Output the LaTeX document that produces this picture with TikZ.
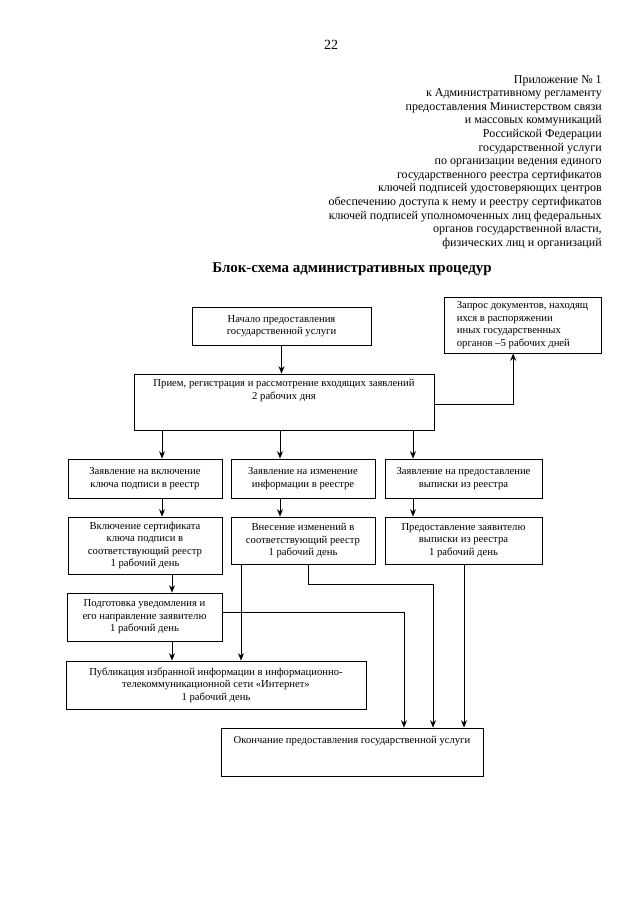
\documentclass[tikz,border=0pt]{standalone}
\usepackage{fontspec}
\setmainfont{Liberation Serif}
\usetikzlibrary{arrows.meta}

\begin{document}
\begin{tikzpicture}[x=0.75pt,y=-0.75pt,
            box/.style={draw, line width=0.7pt, align=center, inner sep=2pt, font=\fontsize{8}{9.4}\selectfont},
            arr/.style={line width=0.7pt, -{Stealth[length=5.5pt,width=4.5pt]}},
            lin/.style={line width=0.7pt}]
        \useasboundingbox (0,0) rectangle (640,905);

        % page header
        \node (page) at (331,45) {\fontsize{10.5}{12}\selectfont 22};
        \node[anchor=north east, align=right, inner sep=0pt, font=\fontsize{9}{10.2}\selectfont] (annex) at (602,75) {Приложение № 1\\
            к Административному регламенту\\
            предоставления Министерством связи\\
            и массовых коммуникаций\\
            Российской Федерации\\
            государственной услуги\\
            по организации ведения единого\\
            государственного реестра сертификатов\\
            ключей подписей удостоверяющих центров\\
            обеспечению доступа к нему и реестру сертификатов\\
            ключей подписей уполномоченных лиц федеральных\\
            органов государственной власти,\\
            физических лиц и организаций};
        \node[font=\bfseries\fontsize{11.2}{13}\selectfont] (title) at (352,269) {Блок-схема административных процедур};

        % boxes
        \node[box, minimum width=134.25pt, minimum height=28.5pt] (start) at (281.5,326) {Начало предоставления\\государственной услуги};
        \node[box, minimum width=225pt, minimum height=42pt] (proc) at (284,402) {Прием, регистрация и рассмотрение входящих заявлений\\2 рабочих дня\\~\\~};
        \node[box, align=left, minimum width=117.75pt, minimum height=42pt] (req) at (522.5,325) {Запрос документов, находящ\\ихся в распоряжении\\иных государственных\\органов –5 рабочих дней};

        \node[box, minimum width=115.5pt, minimum height=29.25pt] (a1) at (145,478.5) {Заявление на включение\\ключа подписи в реестр};
        \node[box, minimum width=108pt, minimum height=29.25pt] (b1) at (303,478.5) {Заявление на изменение\\информации в реестре};
        \node[box, minimum width=117.75pt, minimum height=29.25pt] (c1) at (463.5,478.5) {Заявление на предоставление\\выписки из реестра};

        \node[box, minimum width=115.5pt, minimum height=42.75pt] (a2) at (145,545.5) {Включение сертификата\\ключа подписи в\\соответствующий реестр\\1 рабочий день};
        \node[box, minimum width=108pt, minimum height=35.25pt] (b2) at (303,540.5) {Внесение изменений в\\соответствующий реестр\\1 рабочий день};
        \node[box, minimum width=117.75pt, minimum height=35.25pt] (c2) at (463.5,540.5) {Предоставление заявителю\\выписки из реестра\\1 рабочий день};

        \node[box, minimum width=116.25pt, minimum height=36pt] (notif) at (144.5,617) {Подготовка уведомления и\\его направление заявителю\\1 рабочий день};
        \node[box, minimum width=225pt, minimum height=36pt] (pub) at (216,685) {Публикация избранной информации в информационно-\\телекоммуникационной сети «Интернет»\\1 рабочий день};
        \node[box, minimum width=196.5pt, minimum height=36pt] (fin) at (352,752) {Окончание предоставления государственной услуги\\~\\~};

        % columns of the connectors
        \coordinate (colA) at (162,0);
        \coordinate (colA2) at (172,0);
        \coordinate (colB) at (280,0);
        \coordinate (colB2) at (241,0);
        \coordinate (colB3) at (308,0);
        \coordinate (colC) at (413,0);
        \coordinate (colF1) at (404,0);
        \coordinate (colF2) at (433,0);
        \coordinate (colF3) at (464,0);

        % connectors
        \draw[arr] (start.south) -- (start.south |- proc.north);
        \draw[arr] ([yshift=-2pt]proc.east) -| ([xshift=-7pt]req.south);

        \draw[arr] (proc.south -| colA) -- (a1.north -| colA);
        \draw[arr] (proc.south -| colB) -- (b1.north -| colB);
        \draw[arr] (proc.south -| colC) -- (c1.north -| colC);

        \draw[arr] (a1.south -| colA) -- (a2.north -| colA);
        \draw[arr] (b1.south -| colB) -- (b2.north -| colB);
        \draw[arr] (c1.south -| colC) -- (c2.north -| colC);

        \draw[arr] (a2.south -| colA2) -- (notif.north -| colA2);
        \draw[arr] (notif.south -| colA2) -- (pub.north -| colA2);
        \draw[arr] (b2.south -| colB2) -- (pub.north -| colB2);

        \draw[arr] ([yshift=3.75pt]notif.east) -| (fin.north -| colF1);
        \draw[arr] (b2.south -| colB3) -- ++(0,20) -| (fin.north -| colF2);
        \draw[arr] (c2.south -| colF3) -- (fin.north -| colF3);
    \end{tikzpicture}
\end{document}
